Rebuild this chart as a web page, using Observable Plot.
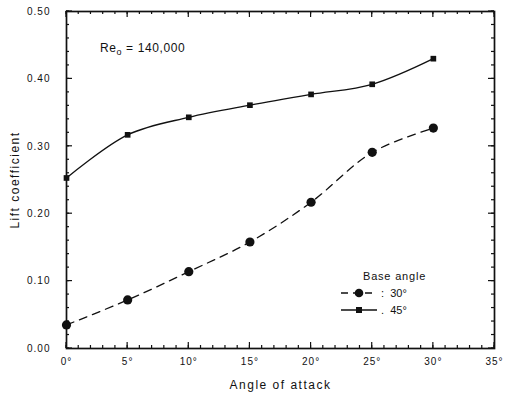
<!DOCTYPE html>
<html>
<head>
<meta charset="utf-8">
<script src="https://cdn.jsdelivr.net/npm/d3@7"></script>
<script src="https://cdn.jsdelivr.net/npm/@observablehq/plot@0.6"></script>
<style>
  html, body { margin: 0; padding: 0; background: #fff; }
  svg { font-family: "Liberation Sans", Arial, sans-serif; }
</style>
</head>
<body>
<div id="chart"></div>
<script>
// Data
const angles = [0, 5, 10, 15, 20, 25, 30];
const cl30 = [0.035, 0.072, 0.114, 0.158, 0.217, 0.291, 0.327];
const cl45 = [0.253, 0.317, 0.343, 0.361, 0.377, 0.392, 0.430];
const xTicks = [0, 5, 10, 15, 20, 25, 30, 35];
const xMinor = d3.range(0, 36, 1);
const yTicks = [0, 0.1, 0.2, 0.3, 0.4, 0.5];
const yMinor = d3.range(0, 0.501, 0.02);
const seriesNames = ["30°", "45°"];

const rows30 = angles.map((a, i) => ({angle: a, cl: cl30[i]}));
const rows45 = angles.map((a, i) => ({angle: a, cl: cl45[i]}));

const W = 507, H = 395, mL = 66, mR = 13, mT = 11, mB = 47;
const ink = "#111";

const plot = Plot.plot({
  width: W,
  height: H,
  marginLeft: mL,
  marginRight: mR,
  marginTop: mT,
  marginBottom: mB,
  style: {fontFamily: "'Liberation Sans', Arial, sans-serif", color: ink, background: "#fff"},
  x: {domain: [0, 35]},
  y: {domain: [0, 0.5]},
  marks: [
    Plot.frame({stroke: ink, strokeWidth: 1.7}),
    Plot.axisX({anchor: "bottom", ticks: xTicks, tickSize: 0, tickPadding: 9, tickFormat: d => d + "°",
      fontSize: 10, label: "Angle of attack", labelAnchor: "center", labelArrow: "none", labelOffset: 40, fill: ink}),
    Plot.axisY({anchor: "left", ticks: yTicks, tickSize: 0, tickPadding: 16, tickFormat: d3.format(".2f"),
      fontSize: 10, label: "Lift coefficient", labelAnchor: "center", labelArrow: "none", labelOffset: 56, fill: ink}),
    Plot.line(rows30, {x: "angle", y: "cl", stroke: ink, strokeWidth: 1.3, strokeDasharray: "8,6", curve: "catmull-rom"}),
    Plot.dot(rows30, {x: "angle", y: "cl", r: 4.6, fill: ink, stroke: "none"}),
    Plot.line(rows45, {x: "angle", y: "cl", stroke: ink, strokeWidth: 1.3, curve: "catmull-rom"}),
    Plot.dot(rows45, {x: "angle", y: "cl", symbol: "square", r: 3.2, fill: ink, stroke: "none"})
  ]
});
document.getElementById("chart").appendChild(plot);

const svg = d3.select(plot);
svg.selectAll("g[aria-label$='tick label'] text").attr("letter-spacing", "1");
svg.selectAll("g[aria-label='x-axis label'] text, g[aria-label='y-axis label'] text").style("font-size", "12px").attr("letter-spacing", "1.5");

// Inward ticks on all four sides, positioned with Plot's own scales
const sx = plot.scale("x"), sy = plot.scale("y");
const x0 = mL, x1 = W - mR, y0 = mT, y1 = H - mB;
const tg = svg.append("g").attr("stroke", ink).attr("stroke-width", 1.2);
function drawX(vals, len) {
  for (const v of vals) {
    const px = sx.apply(v);
    tg.append("line").attr("x1", px).attr("x2", px).attr("y1", y1).attr("y2", y1 - len);
    tg.append("line").attr("x1", px).attr("x2", px).attr("y1", y0).attr("y2", y0 + len);
  }
}
function drawY(vals, len) {
  for (const v of vals) {
    const py = sy.apply(v);
    tg.append("line").attr("y1", py).attr("y2", py).attr("x1", x0).attr("x2", x0 + len);
    tg.append("line").attr("y1", py).attr("y2", py).attr("x1", x1).attr("x2", x1 - len);
  }
}
drawX(xMinor, 3); drawY(yMinor, 3);
drawX(xTicks, 6); drawY(yTicks, 6);

// Annotation
const ann = svg.append("text").attr("x", 100).attr("y", 52).attr("text-anchor", "start")
  .attr("font-size", 12).attr("fill", ink).attr("letter-spacing", "0.6");
ann.append("tspan").text("Re");
ann.append("tspan").attr("font-size", 9).attr("dy", 3).text("o");
ann.append("tspan").attr("dy", -3).text(" = 140,000");

// Legend
const lg = svg.append("g").attr("fill", ink).attr("font-size", 11).attr("text-anchor", "start");
lg.append("text").attr("x", 363).attr("y", 280).attr("letter-spacing", "0.8").text("Base angle");
lg.append("line").attr("x1", 341).attr("x2", 376).attr("y1", 293).attr("y2", 293).attr("stroke", ink).attr("stroke-width", 1.3).attr("stroke-dasharray", "7,5");
lg.append("circle").attr("cx", 359).attr("cy", 293).attr("r", 4.3);
lg.append("text").attr("x", 381).attr("y", 297).text(":  " + seriesNames[0]);
lg.append("line").attr("x1", 341).attr("x2", 377).attr("y1", 310).attr("y2", 310).attr("stroke", ink).attr("stroke-width", 1.3);
lg.append("rect").attr("x", 356).attr("y", 307).attr("width", 6).attr("height", 6);
lg.append("text").attr("x", 381).attr("y", 314).text(".  " + seriesNames[1]);
</script>
</body>
</html>
